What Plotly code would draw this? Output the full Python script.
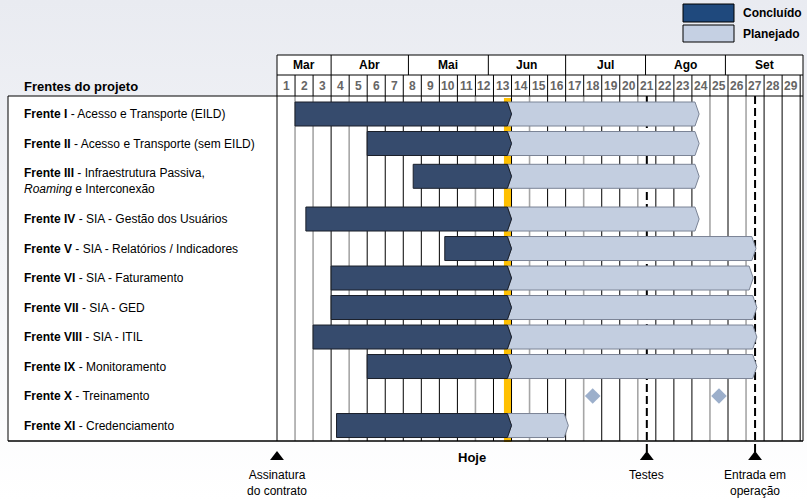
import plotly.graph_objects as go

# ---- data (x in project weeks, week k spans [k-1, k]) ----
fronts = ["Frente I", "Frente II", "Frente III", "Frente IV", "Frente V", "Frente VI",
          "Frente VII", "Frente VIII", "Frente IX", "Frente X", "Frente XI"]
descriptions = ["Acesso e Transporte (EILD)", "Acesso e Transporte (sem EILD)",
                "Infraestrutura Passiva,<br><i>Roaming</i> e Interconexão",
                "SIA - Gestão dos Usuários", "SIA - Relatórios / Indicadores",
                "SIA - Faturamento", "SIA - GED", "SIA - ITIL", "Monitoramento",
                "Treinamento", "Credenciamento"]
start = [1.0, 5.0, 7.55, 1.6, 9.3, 3.0, 3.0, 2.0, 5.0, None, 3.3]
end = [23.4, 23.4, 23.4, 23.4, 26.55, 26.4, 26.6, 26.6, 26.6, None, 16.15]
today = 13.0
training_marks = [17.5, 24.5]

months = ["Mar", "Abr", "Mai", "Jun", "Jul", "Ago", "Set"]
month_days = [21, 30, 31, 30, 31, 31, 30]   # days of each month inside the schedule
weeks = list(range(1, 30))

milestones = ["Assinatura<br>do contrato", "Testes", "Entrada em<br>operação"]
milestone_x = [0.0, 20.5, 26.5]

# ---- layout geometry ----
W, H = 807, 500
PX0, COL = 277, 18.04          # pixel of week 0 and pixel width of a week


def wx(px):
    return (px - PX0) / COL


row_span = [1, 1, 1.56, 1, 1, 1, 1, 1, 1, 1, 1]
ROW_TOP, ROW_UNIT = 99.25, 29.5
row_center, bar_center = [], []
acc = 0
for h in row_span:
    c = ROW_TOP + ROW_UNIT * (acc + h / 2)
    row_center.append(c)
    bar_center.append(c - (h - 1) * 0.3 * ROW_UNIT)
    acc += h

GRID_TOP, GRID_BOT = 96, 441
HDR_TOP, HDR_MID = 55, 75
RIGHT = wx(803)
BAR_H = 12
TIP = 0.23
gray_lines = [1, 2, 4, 11, 14, 17, 20, 24, 26]

DARK = "#364b6d"
LIGHT = "#c3cee0"
FONT = "Liberation Sans"

fig = go.Figure()

# background gradient
fig.add_trace(go.Scatter(x=[wx(0), wx(W), wx(W), wx(0), wx(0)], y=[0, 0, H, H, 0],
                         fill="toself", mode="none", hoverinfo="skip",
                         fillgradient=dict(type="vertical",
                                           colorscale=[[0, "#ffffff"], [1, "#e9ebf1"]])))

# white panels (label box, header, grid)
fig.add_trace(go.Scatter(x=[wx(8), RIGHT, RIGHT, wx(8), wx(8), None, 0, RIGHT, RIGHT, 0, 0],
                         y=[GRID_TOP, GRID_TOP, GRID_BOT, GRID_BOT, GRID_TOP, None,
                            HDR_TOP, HDR_TOP, GRID_TOP, GRID_TOP, HDR_TOP],
                         fill="toself", fillcolor="white", mode="none", hoverinfo="skip"))

# "today" marker
fig.add_trace(go.Scatter(x=[today - 0.42, today, today, today - 0.42, today - 0.42],
                         y=[GRID_TOP + 2, GRID_TOP + 2, GRID_BOT + 1, GRID_BOT + 1, GRID_TOP + 2],
                         fill="toself", fillcolor="#ffc000", mode="none", hoverinfo="skip"))

# vertical week lines in the grid
for color, width, sel in [("#a6a6a6", 1.6, True), ("#000000", 1, False)]:
    xs, ys = [], []
    for k in weeks:
        if (k in gray_lines) == sel:
            xs += [k, k, None]
            ys += [GRID_TOP, GRID_BOT, None]
    fig.add_trace(go.Scatter(x=xs, y=ys, mode="lines", hoverinfo="skip",
                             line=dict(color=color, width=width)))

# milestone dashed lines
xs, ys = [], []
for mx in milestone_x[1:]:
    xs += [mx, mx, None]
    ys += [GRID_TOP, 452, None]
fig.add_trace(go.Scatter(x=xs, y=ys, mode="lines", hoverinfo="skip",
                         line=dict(color="black", width=2, dash="8px,4px")))

# bars: done part and planned part as chevrons
dx, dy, lx, ly = [], [], [], []
for s, e, yc in zip(start, end, bar_center):
    if s is None:
        continue
    t, b = yc - BAR_H, yc + BAR_H
    dx += [s, today - TIP, today, today - TIP, s, s, None]
    dy += [t, t, yc, b, b, t, None]
    lx += [today - TIP, e - TIP, e, e - TIP, today - TIP, today, today - TIP, None]
    ly += [t, t, yc, b, b, yc, t, None]
fig.add_trace(go.Scatter(x=lx, y=ly, fill="toself", fillcolor=LIGHT, mode="lines",
                         line=dict(color="#7b8496", width=1), hoverinfo="skip"))
fig.add_trace(go.Scatter(x=dx, y=dy, fill="toself", fillcolor=DARK, mode="lines",
                         line=dict(color="#1a1f2a", width=1), hoverinfo="skip"))

# training milestones
fig.add_trace(go.Scatter(x=training_marks, y=[row_center[9]] * len(training_marks),
                         mode="markers", hoverinfo="skip",
                         marker=dict(symbol="diamond", size=12, color="#9cafcb")))

# project milestones triangles
fig.add_trace(go.Scatter(x=milestone_x, y=[457] * len(milestone_x), mode="markers",
                         hoverinfo="skip",
                         marker=dict(symbol="triangle-up", size=12, color="black")))

shapes = []


def line(x0, y0, x1, y1, w=1):
    shapes.append(dict(type="line", x0=x0, y0=y0, x1=x1, y1=y1,
                       line=dict(color="black", width=w)))


# outer borders
line(wx(8), GRID_TOP, RIGHT, GRID_TOP)
line(wx(8), GRID_BOT, RIGHT, GRID_BOT, 1.5)
line(wx(8), GRID_TOP, wx(8), GRID_BOT)
line(0, HDR_TOP, 0, GRID_BOT)
line(RIGHT, HDR_TOP, RIGHT, GRID_BOT)
line(0, HDR_TOP, RIGHT, HDR_TOP)
line(0, HDR_MID, RIGHT, HDR_MID)
for k in weeks:
    line(k, HDR_MID, k, GRID_TOP)

annotations = []
acc = 0
for m, d in zip(months, month_days):
    x0 = acc / 7
    acc += d
    x1 = acc / 7
    if acc < sum(month_days):
        line(x1, HDR_TOP, x1, HDR_MID)
    annotations.append(dict(x=(x0 + x1) / 2, y=(HDR_TOP + HDR_MID) / 2, text=f"<b>{m}</b>",
                            showarrow=False, font=dict(size=12, color="black")))
for k in weeks:
    annotations.append(dict(x=k - 0.5, y=(HDR_MID + GRID_TOP) / 2, text=f"<b>{k}</b>",
                            showarrow=False, font=dict(size=12, color="#666666")))

annotations.append(dict(x=wx(22), y=86, text="<b>Frentes do projeto</b>", xanchor="left",
                        showarrow=False, font=dict(size=13, color="black")))
for f, desc, yc in zip(fronts, descriptions, row_center):
    annotations.append(dict(x=wx(22), y=yc, text=f"<b>{f}</b> - {desc}", xanchor="left",
                            align="left", showarrow=False,
                            font=dict(size=12, color="black")))

for name, mx in zip(milestones, milestone_x):
    annotations.append(dict(x=mx, y=466, text=name, yanchor="top", showarrow=False,
                            font=dict(size=12, color="black")))
annotations.append(dict(x=wx(472), y=457, text="<b>Hoje</b>", showarrow=False,
                        font=dict(size=13, color="black")))

# legend
for label, color, y0, y1 in [("Concluído", "#1f497d", 4, 22), ("Planejado", "#c5d0e3", 25, 42)]:
    shapes.append(dict(type="rect", x0=wx(683), x1=wx(734), y0=y0, y1=y1, fillcolor=color,
                       line=dict(color="black", width=1)))
    annotations.append(dict(x=wx(741), y=(y0 + y1) / 2, text=f"<b>{label}</b>", xanchor="left",
                            showarrow=False, font=dict(size=12, color="black")))

fig.update_layout(
    width=W, height=H, margin=dict(l=0, r=0, t=0, b=0),
    paper_bgcolor="white", plot_bgcolor="white", showlegend=False,
    font=dict(family=FONT),
    xaxis=dict(range=[wx(0), wx(W)], visible=False, fixedrange=True),
    yaxis=dict(range=[H, 0], visible=False, fixedrange=True),
    shapes=shapes, annotations=annotations,
)

# the page's default body margin would push the chart 8px off the window
fig.write_html("out.html", config={"displayModeBar": False},
               post_script="document.body.style.margin='0';")
